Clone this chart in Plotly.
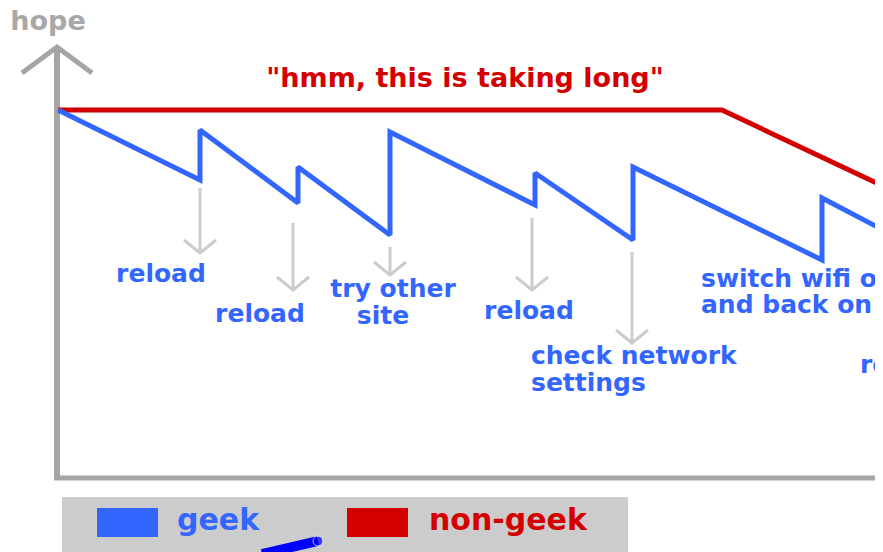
import plotly.graph_objects as go

# ---- data (time on x, hope on y) ----
geek_time = [1, 143, 143, 241, 241, 333, 333, 478, 478, 576, 576, 765, 765, 828]
geek_hope = [368, 298, 348, 275, 311, 243, 346, 273, 305, 238, 311, 218, 280, 247]

nongeek_time = [1, 665, 828]
nongeek_hope = [368, 368, 291]

# gray pointer arrows: x, start hope, end hope
arrow_time = [143, 236, 333, 475, 575]
arrow_from = [290, 255, 231, 260, 226]
arrow_to = [225, 188, 203, 188, 135]

# action labels (one entry per text line)
label_text = ["reload", "reload", "try other", "site", "reload"]
label_time = [104, 203, 336, 326, 472]
label_hope = [202, 162, 187, 160, 165]

left_text = ["check network", "settings", "switch wifi off", "and back on", "reload"]
left_time = [474, 474, 644, 644, 803]
left_hope = [120, 93, 197, 171, 111]

title_text = '"hmm, this is taking long"'
axis_label = "hope"
legend_names = ["geek", "non-geek"]

BLUE = "#3366ff"
RED = "#d40000"
GRAY = "#a5a5a5"
LIGHT = "#cccccc"
FONT = "DejaVu Sans"

fig = go.Figure()

# axes
fig.add_trace(go.Scatter(x=[0, 0], y=[0, 431], mode="lines",
                         line=dict(color=GRAY, width=6), hoverinfo="skip"))
fig.add_trace(go.Scatter(x=[-3, 830], y=[0, 0], mode="lines",
                         line=dict(color=GRAY, width=5), hoverinfo="skip"))
fig.add_trace(go.Scatter(x=[-35, 0, 35], y=[405, 431, 405], mode="lines",
                         line=dict(color=GRAY, width=5), hoverinfo="skip"))

# gray arrows
ax, ay = [], []
for t, a, b in zip(arrow_time, arrow_from, arrow_to):
    ax += [t, t, None, t - 16, t, t + 16, None]
    ay += [a, b, None, b + 13, b, b + 13, None]
fig.add_trace(go.Scatter(x=ax, y=ay, mode="lines",
                         line=dict(color=LIGHT, width=3), hoverinfo="skip"))

# series
fig.add_trace(go.Scatter(x=nongeek_time, y=nongeek_hope, mode="lines",
                         line=dict(color=RED, width=5), hoverinfo="skip"))
fig.add_trace(go.Scatter(x=geek_time, y=geek_hope, mode="lines",
                         line=dict(color=BLUE, width=5), hoverinfo="skip"))

# labels
fig.add_trace(go.Scatter(x=label_time, y=label_hope, mode="text", text=label_text,
                         textposition="middle center",
                         textfont=dict(family=FONT, size=25, color=BLUE, weight="bold"),
                         hoverinfo="skip"))
fig.add_trace(go.Scatter(x=left_time, y=left_hope, mode="text", text=left_text,
                         textposition="middle right",
                         textfont=dict(family=FONT, size=25, color=BLUE, weight="bold"),
                         hoverinfo="skip"))
fig.add_trace(go.Scatter(x=[408], y=[398], mode="text", text=[title_text],
                         textposition="middle center",
                         textfont=dict(family=FONT, size=27, color=RED, weight="bold"),
                         hoverinfo="skip"))
fig.add_trace(go.Scatter(x=[-9], y=[455], mode="text", text=[axis_label],
                         textposition="middle center", cliponaxis=False,
                         textfont=dict(family=FONT, size=27, color="#a8a8a8", weight="bold"),
                         hoverinfo="skip"))

# legend box
shapes = [
    dict(type="rect", x0=5, x1=571, y0=-19, y1=-90, fillcolor=LIGHT,
         line=dict(width=0), layer="below"),
    dict(type="rect", x0=40, x1=101, y0=-30, y1=-59, fillcolor=BLUE,
         line=dict(width=0), layer="below"),
    dict(type="rect", x0=290, x1=351, y0=-30, y1=-59, fillcolor=RED,
         line=dict(width=0), layer="below"),
]
fig.add_trace(go.Scatter(x=[120, 372], y=[-44, -44], mode="text", text=legend_names,
                         textposition="middle right",
                         textfont=dict(family=FONT, size=30, color=[BLUE, RED], weight="bold"),
                         hoverinfo="skip"))

# pen stroke
fig.add_trace(go.Scatter(x=[205, 261], y=[-76, -63], mode="lines+markers",
                         line=dict(color="#0000ff", width=10),
                         marker=dict(size=[0, 10], color="#0000ff"),
                         hoverinfo="skip"))

# the page body adds an 8px offset; ranges are shifted to compensate
fig.update_layout(
    width=883, height=552,
    margin=dict(l=0, r=11, t=0, b=0),
    paper_bgcolor="#eef1f6",
    plot_bgcolor="white",
    showlegend=False,
    shapes=shapes,
    xaxis=dict(range=[-49, 823], visible=False, fixedrange=True),
    yaxis=dict(range=[-82, 470], visible=False, fixedrange=True),
)

fig.write_html("out.html")
